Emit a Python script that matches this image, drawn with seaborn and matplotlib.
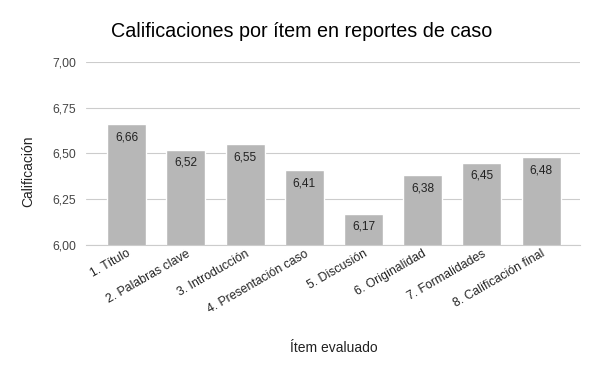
import matplotlib
matplotlib.use("Agg")
import matplotlib.pyplot as plt
import seaborn as sns
import pandas as pd

# chart data
items = ["1. Título", "2. Palabras clave", "3. Introducción", "4. Presentación caso",
         "5. Discusión", "6. Originalidad", "7. Formalidades", "8. Calificación final"]
scores = [6.66, 6.52, 6.55, 6.41, 6.17, 6.38, 6.45, 6.48]
y_ticks = [6.00, 6.25, 6.50, 6.75, 7.00]

df = pd.DataFrame({"item": items, "score": scores})

sns.set_style("white")
plt.rcParams["font.family"] = ["Liberation Sans", "DejaVu Sans"]

fig = plt.figure(figsize=(6, 3.71), dpi=100)
ax = fig.add_axes([0.143, 0.340, 0.824, 0.493])

sns.barplot(data=df, x="item", y="score", color="#b7b7b7", width=0.66,
            saturation=1, ax=ax, zorder=2)

ax.set_ylim(6.0, 7.0)
ax.set_xlim(-0.69, 7.66)
ax.set_yticks(y_ticks)
ax.set_yticklabels([f"{t:.2f}".replace(".", ",") for t in y_ticks], fontsize=8.7, color="#444444")
ax.yaxis.grid(True, color="#cccccc", linewidth=0.8, zorder=0)
ax.tick_params(axis="y", length=0, pad=7)
ax.tick_params(axis="x", length=0, pad=2)
plt.setp(ax.get_xticklabels(), rotation=30, ha="right", rotation_mode="anchor",
         fontsize=8.8, color="#222222")
for s in ["top", "right", "left"]:
    ax.spines[s].set_visible(False)
ax.spines["bottom"].set_color("#cccccc")

for i, v in enumerate(scores):
    ax.text(i, v - 0.072, f"{v:.2f}".replace(".", ","), ha="center", va="center",
            fontsize=8.6, color="#222222", zorder=3)

ax.set_xlabel("Ítem evaluado", fontsize=10, color="#222222")
ax.xaxis.set_label_coords(0.502, -0.525)
ax.set_ylabel("Calificación", fontsize=10, color="#222222", va="center")
ax.yaxis.set_label_coords(-0.117, 0.40)

fig.text(0.502, 0.915, "Calificaciones por ítem en reportes de caso", ha="center",
         va="center", fontsize=14.2, color="#000000")

fig.savefig("out.png", dpi=100)
